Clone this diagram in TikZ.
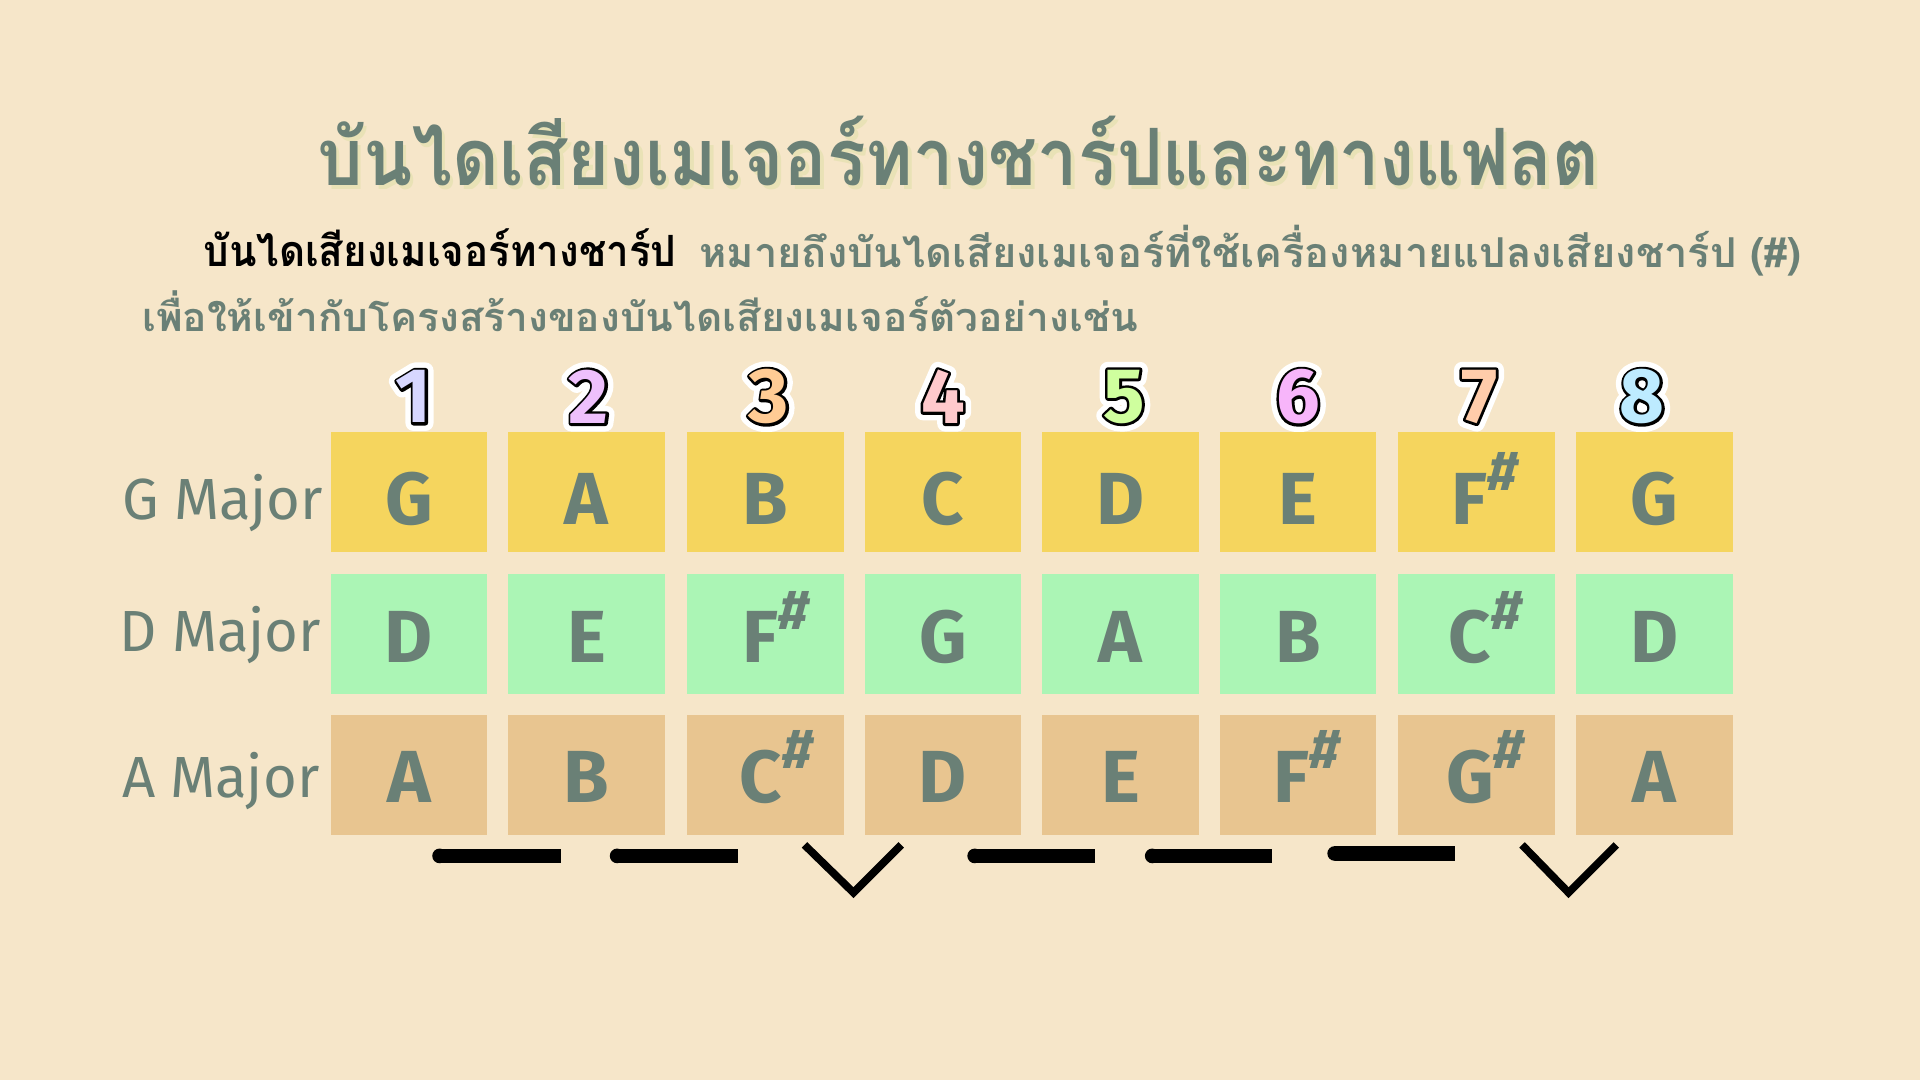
\documentclass[tikz,border=0pt]{standalone}
\usepackage{fontspec}
\usepackage{graphicx}
\setmainfont{Fira Sans}
\newfontfamily\thaifont[Script=Thai]{Loma}
\definecolor{paper}{HTML}{F6E6C9}
\definecolor{ink}{HTML}{6A8076}
\definecolor{inkshade}{HTML}{E9E2B6}
\definecolor{cellyel}{HTML}{F5D55E}
\definecolor{cellgrn}{HTML}{ABF5B5}
\definecolor{celltan}{HTML}{E8C590}
\definecolor{numa}{HTML}{D7D7FF}
\definecolor{numb}{HTML}{EEC0FC}
\definecolor{numc}{HTML}{FFCB94}
\definecolor{numd}{HTML}{FFC9CC}
\definecolor{nume}{HTML}{CFFF9E}
\definecolor{numf}{HTML}{F7B5FA}
\definecolor{numg}{HTML}{FFCCAA}
\definecolor{numh}{HTML}{BDEBFF}
\newcommand\shrp{\raisebox{9.5pt}{\fontsize{16}{16}\selectfont\itshape\#}}
\newcommand\rimtext[2]{\special{pdf:literal direct 2 Tr #1 w 1 j}#2\special{pdf:literal direct 0 Tr}}
\begin{document}
\begin{tikzpicture}[
        x=0.12245mm,
        y=-0.12245mm,
        thick,
        font=\fontsize{21}{24}\selectfont\bfseries
    ]
    \tikzset{
        cellg/.style = {rectangle, fill=cellyel, minimum width=15.67mm, minimum height=12mm, inner sep=0pt},
        celld/.style = {rectangle, fill=cellgrn, minimum width=15.67mm, minimum height=12mm, inner sep=0pt},
        cella/.style = {rectangle, fill=celltan, minimum width=15.67mm, minimum height=12mm, inner sep=0pt},
        note/.style = {text=ink, anchor=base, inner sep=0pt},
        key/.style = {text=ink, anchor=base east, inner sep=0pt, font=\fontsize{16.5}{18}\selectfont},
        digit/.style = {inner sep=0pt, font=\fontsize{22}{24}\selectfont\bfseries},
        thaitext/.style = {anchor=north west, inner sep=0pt},
        whole/.style = {fill=black},
        half/.style = {draw=black, line width=2.2pt, line join=miter},
    }
    \fill[paper] (0,0) rectangle (1568,882);
    \useasboundingbox (0,0) rectangle (1568,882);
    %
    \node[thaitext, text=inkshade] at (261,97) {\resizebox*{128.2mm}{6.98mm}{\thaifont\bfseries บันไดเสียงเมเจอร์ทางชาร์ปและทางแฟลต}};
    \node[thaitext, text=ink] (title) at (258,94) {\resizebox*{128.2mm}{6.98mm}{\thaifont\bfseries บันไดเสียงเมเจอร์ทางชาร์ปและทางแฟลต}};
    \node[thaitext, text=black] (term) at (165,186) {\resizebox*{47.3mm}{3.8mm}{\thaifont\bfseries บันไดเสียงเมเจอร์ทางชาร์ป}};
    \node[thaitext, text=ink] (meaning) at (570,183) {\resizebox*{110.2mm}{5.1mm}{\thaifont\bfseries หมายถึงบันไดเสียงเมเจอร์ที่ใช้เครื่องหมายแปลงเสียงชาร์ป (\#)}};
    \node[thaitext, text=ink] (example) at (115,236) {\resizebox*{99.6mm}{4.1mm}{\thaifont\bfseries เพื่อให้เข้ากับโครงสร้างของบันไดเสียงเมเจอร์ตัวอย่างเช่น}};
    %
    \foreach \n/\x/\c in {1/338/numa, 2/481/numb, 3/628/numc, 4/770/numd, 5/918/nume, 6/1060/numf, 7/1208/numg, 8/1341/numh} {
        \node[digit, text=white] at (\x,324) {\rimtext{4.6}{\n}};
        \node[digit, text=black] at (\x,324) {\rimtext{1.5}{\n}};
        \node[digit, text=\c] (n\n) at (\x,324) {\n};
    }
    %
    \node[key] (kg) at (265,424) {G Major};
    \node[key] (kd) at (263,532) {D Major};
    \node[key] (ka) at (262,651) {A Major};
    %
    \node[cellg] (g1) at (334,402) {};
    \node[cellg] (g2) at (479,402) {};
    \node[cellg] (g3) at (625,402) {};
    \node[cellg] (g4) at (770,402) {};
    \node[cellg] (g5) at (915,402) {};
    \node[cellg] (g6) at (1060,402) {};
    \node[cellg] (g7) at (1206,402) {};
    \node[cellg] (g8) at (1351,402) {};
    %
    \node[celld] (d1) at (334,517.5) {};
    \node[celld] (d2) at (479,517.5) {};
    \node[celld] (d3) at (625,517.5) {};
    \node[celld] (d4) at (770,517.5) {};
    \node[celld] (d5) at (915,517.5) {};
    \node[celld] (d6) at (1060,517.5) {};
    \node[celld] (d7) at (1206,517.5) {};
    \node[celld] (d8) at (1351,517.5) {};
    %
    \node[cella] (a1) at (334,633) {};
    \node[cella] (a2) at (479,633) {};
    \node[cella] (a3) at (625,633) {};
    \node[cella] (a4) at (770,633) {};
    \node[cella] (a5) at (915,633) {};
    \node[cella] (a6) at (1060,633) {};
    \node[cella] (a7) at (1206,633) {};
    \node[cella] (a8) at (1351,633) {};
    %
    \node[note] at (334,428) {G};
    \node[note] at (479,428) {A};
    \node[note] at (625,428) {B};
    \node[note] at (770,428) {C};
    \node[note] at (915,428) {D};
    \node[note] at (1060,428) {E};
    \node[note] at (1213,428) {F\shrp};
    \node[note] at (1351,428) {G};
    %
    \node[note] at (334,541) {D};
    \node[note] at (479,541) {E};
    \node[note] at (634,541) {F\shrp};
    \node[note] at (770,541) {G};
    \node[note] at (915,541) {A};
    \node[note] at (1060,541) {B};
    \node[note] at (1213,541) {C\shrp};
    \node[note] at (1351,541) {D};
    %
    \node[note] at (334,655) {A};
    \node[note] at (479,655) {B};
    \node[note] at (634,655) {C\shrp};
    \node[note] at (770,655) {D};
    \node[note] at (915,655) {E};
    \node[note] at (1067,655) {F\shrp};
    \node[note] at (1213,655) {G\shrp};
    \node[note] at (1351,655) {A};
    %
    \fill[whole] (359,693) rectangle (458,705);
    \fill[whole] (359,699) circle[radius=0.735mm];
    \fill[whole] (504,693) rectangle (603,705);
    \fill[whole] (504,699) circle[radius=0.735mm];
    \draw[half] (657,690) -- (697,729) -- (736,690);
    \fill[whole] (796,693) rectangle (894,705);
    \fill[whole] (796,699) circle[radius=0.735mm];
    \fill[whole] (941,693) rectangle (1039,705);
    \fill[whole] (941,699) circle[radius=0.735mm];
    \fill[whole] (1090,691) rectangle (1188,703);
    \fill[whole] (1090,697) circle[radius=0.735mm];
    \draw[half] (1243,690) -- (1281,729) -- (1320,690);
\end{tikzpicture}
\end{document}
